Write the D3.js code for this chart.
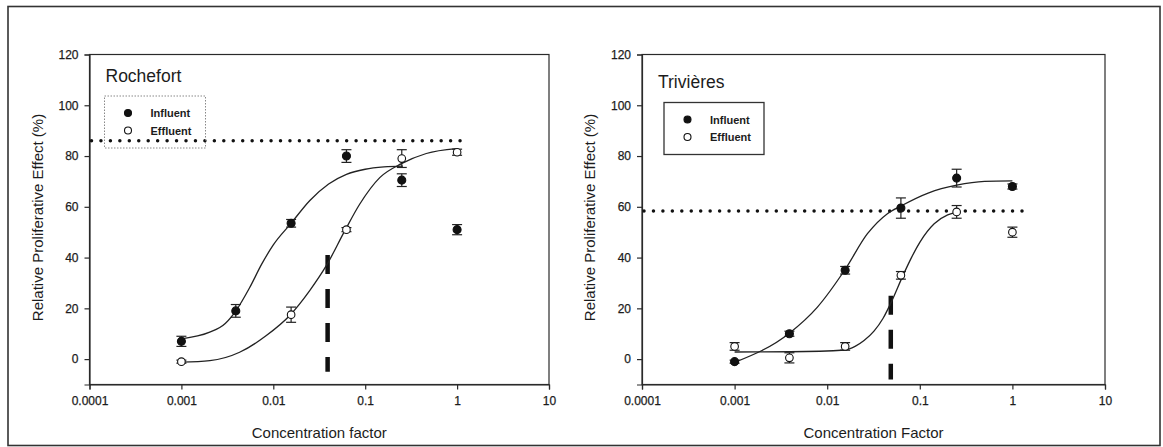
<!DOCTYPE html>
<html><head><meta charset="utf-8">
<script src="https://cdn.jsdelivr.net/npm/d3@7"></script>
<style>
body{margin:0;background:#fff}
svg{display:block}
text{font-family:"Liberation Sans",Arial,Helvetica,sans-serif;fill:#1c1c1c}
</style></head>
<body><svg id="chart" width="1163" height="447"></svg>
<script>
// ---------- data ----------
const concentrations = [0.001, 1/256, 1/64, 1/16, 1/4, 1];
const xTickValues = [0.0001, 0.001, 0.01, 0.1, 1, 10];
const xTickLabels = ["0.0001", "0.001", "0.01", "0.1", "1", "10"];
const yTickValues = [0, 20, 40, 60, 80, 100, 120];
const seriesNames = ["Influent", "Effluent"];

// Rochefort
const rochefortInfluent    = [7, 19, 53.5, 80, 70.5, 51];
const rochefortInfluentErr = [2, 2.5, 1.5, 2.5, 2.5, 2];
const rochefortEffluent    = [-1, null, 17.5, 51, 79, 81.5];
const rochefortEffluentErr = [0.6, null, 3, 0.8, 3.5, 1.2];
const rochefortInfluentFitX = [0.001, 0.002, 0.003, 0.004, 0.0055, 0.0075, 0.01, 0.0156, 0.025, 0.04, 0.0625, 0.1, 0.16, 0.258];
const rochefortInfluentFitY = [8, 10.5, 14, 19.5, 28, 37.5, 45, 53.5, 62.5, 69, 72.8, 74.8, 75.7, 76];
const rochefortEffluentFitX = [0.001, 0.00204, 0.0043, 0.0084, 0.0151, 0.0249, 0.038, 0.0599, 0.087, 0.144, 0.248, 0.462, 0.98];
const rochefortEffluentFitY = [-1.2, -0.6, 2.7, 9.3, 17.2, 27, 37, 50.5, 61, 71.5, 77, 81, 82.9];
const rochefortThreshold = 86;
const rochefortThresholdRange = [0.0001, 1.21];
const rochefortMarkerX = 0.039;
const rochefortMarkerRange = [41, -5];

// Trivières
const trivieresInfluent    = [-1, 10, 35, 59.5, 71.3, 68];
const trivieresInfluentErr = [0.6, 1, 1.5, 4, 3.5, 1];
const trivieresEffluent    = [5, 0.5, 5, 33, 58, 50];
const trivieresEffluentErr = [1.5, 2, 1.5, 1.5, 2.5, 2];
const trivieresInfluentFitX = [0.001, 0.0039, 0.0078, 0.0156, 0.0272, 0.0447, 0.0625, 0.125, 0.25, 0.5, 1];
const trivieresInfluentFitY = [-1.3, 10.2, 20.4, 35.3, 49.4, 57.3, 60.3, 65.5, 68.5, 70, 70.2];
const trivieresEffluentFitX = [0.001, 0.004, 0.0156, 0.02, 0.025, 0.032, 0.04, 0.05, 0.065, 0.08, 0.1, 0.143, 0.2, 0.25];
const trivieresEffluentFitY = [2.8, 2.9, 3.6, 5, 7.3, 11, 16, 23, 32.5, 39.5, 46, 53.3, 56.8, 57.8];
const trivieresThreshold = 58.3;
const trivieresThresholdRange = [0.0001, 1.47];
const trivieresMarkerX = 0.0486;
const trivieresMarkerRange = [25, -8];

// ---------- drawing ----------
const svg = d3.select("#chart");
const ink = "#1c1c1c";

// outer frame
svg.append("rect").attr("x", 8).attr("y", 6.5).attr("width", 1152).attr("height", 439)
  .attr("fill", "none").attr("stroke", "#333").attr("stroke-width", 1.6);

const panels = [
  {title: "Rochefort", xTitle: "Concentration factor", left: 89.5, right: 549, legend: {x: 104.5, y: 96, w: 101, h: 52, dotted: true},
   inf: rochefortInfluent, infErr: rochefortInfluentErr, eff: rochefortEffluent, effErr: rochefortEffluentErr,
   infFit: [rochefortInfluentFitX, rochefortInfluentFitY], effFit: [rochefortEffluentFitX, rochefortEffluentFitY],
   thr: rochefortThreshold, thrRange: rochefortThresholdRange, mX: rochefortMarkerX, mRange: rochefortMarkerRange, titleY: 82, yTitleX: 38},
  {title: "Trivières", xTitle: "Concentration Factor", left: 642, right: 1105, legend: {x: 664, y: 102.5, w: 100, h: 52, dotted: false},
   inf: trivieresInfluent, infErr: trivieresInfluentErr, eff: trivieresEffluent, effErr: trivieresEffluentErr,
   infFit: [trivieresInfluentFitX, trivieresInfluentFitY], effFit: [trivieresEffluentFitX, trivieresEffluentFitY],
   thr: trivieresThreshold, thrRange: trivieresThresholdRange, mX: trivieresMarkerX, mRange: trivieresMarkerRange, titleY: 88, yTitleX: 590}
];

const plotTop = 54.5, plotBottom = 384.5;

panels.forEach(p => {
  const x = d3.scaleLog().domain([0.0001, 10]).range([p.left, p.right]);
  const y = d3.scaleLinear().domain([-10, 120]).range([plotBottom, plotTop]);
  const g = svg.append("g");

  // plot frame
  g.append("rect").attr("x", p.left).attr("y", plotTop).attr("width", p.right - p.left).attr("height", plotBottom - plotTop)
    .attr("fill", "none").attr("stroke", "#2a2a2a").attr("stroke-width", 1.2);

  // axes
  const xAxis = d3.axisBottom(x).tickValues(xTickValues).tickFormat((d, i) => xTickLabels[i]).tickSize(5).tickPadding(7);
  const gx = g.append("g").attr("transform", `translate(0,${plotBottom})`).call(xAxis);
  const yAxis = d3.axisLeft(y).tickValues(yTickValues).tickSize(5).tickPadding(6);
  const gy = g.append("g").attr("transform", `translate(${p.left},0)`).call(yAxis);
  [gx, gy].forEach(a => {
    a.select(".domain").attr("stroke", "#2a2a2a").attr("stroke-width", 1.2);
    a.selectAll(".tick line").attr("stroke", "#2a2a2a").attr("stroke-width", 1.2);
    a.selectAll(".tick text").attr("font-size", 12).attr("fill", ink)
      .attr("stroke", ink).attr("stroke-width", 0.25)
      .style("font-family", '"Liberation Sans",Arial,sans-serif');
  });

  // axis titles
  g.append("text").attr("x", (p.left + p.right) / 2).attr("y", 438).attr("text-anchor", "middle")
    .attr("font-size", 15).text(p.xTitle);
  g.append("text").attr("transform", `translate(${p.yTitleX + 5},${(plotTop + plotBottom) / 2 - 2}) rotate(-90)`)
    .attr("text-anchor", "middle").attr("font-size", 15).text("Relative Proliferative Effect (%)");

  // panel title
  g.append("text").attr("x", p.left + 16).attr("y", p.titleY).attr("font-size", 17.5).text(p.title);

  // threshold dotted line
  g.append("line").attr("x1", x(p.thrRange[0]) + 2).attr("x2", x(p.thrRange[1]))
    .attr("y1", y(p.thr)).attr("y2", y(p.thr))
    .attr("stroke", "#111").attr("stroke-width", 3.5).attr("stroke-linecap", "round")
    .attr("stroke-dasharray", "0 9.45");

  // vertical dashed marker
  g.append("line").attr("x1", x(p.mX)).attr("x2", x(p.mX))
    .attr("y1", y(p.mRange[0])).attr("y2", y(p.mRange[1]))
    .attr("stroke", "#111").attr("stroke-width", 4.5).attr("stroke-dasharray", "19 15");

  // fitted curves
  const line = d3.line().x(d => x(d[0])).y(d => y(d[1])).curve(d3.curveMonotoneX);
  [p.infFit, p.effFit].forEach(f => {
    const pts = f[0].map((v, i) => [v, f[1][i]]);
    g.append("path").attr("d", line(pts)).attr("fill", "none").attr("stroke", "#222").attr("stroke-width", 1.3);
  });

  // points with error bars
  const drawSeries = (vals, errs, filled) => {
    vals.forEach((v, i) => {
      if (v === null) return;
      const cx = x(concentrations[i]), cy = y(v);
      const e = errs[i];
      g.append("line").attr("x1", cx).attr("x2", cx).attr("y1", y(v + e)).attr("y2", y(v - e))
        .attr("stroke", "#222").attr("stroke-width", 1.2);
      [v + e, v - e].forEach(ev => g.append("line").attr("x1", cx - 5).attr("x2", cx + 5)
        .attr("y1", y(ev)).attr("y2", y(ev)).attr("stroke", "#222").attr("stroke-width", 1.2));
      g.append("circle").attr("cx", cx).attr("cy", cy).attr("r", filled ? 4 : 3.8)
        .attr("fill", filled ? "#111" : "#fff").attr("stroke", "#111").attr("stroke-width", 1.1);
    });
  };
  drawSeries(p.eff, p.effErr, false);
  drawSeries(p.inf, p.infErr, true);

  // legend
  const L = p.legend;
  g.append("rect").attr("x", L.x).attr("y", L.y).attr("width", L.w).attr("height", L.h)
    .attr("fill", "none").attr("stroke", L.dotted ? "#888" : "#333")
    .attr("stroke-width", L.dotted ? 1 : 1.3).attr("stroke-dasharray", L.dotted ? "1.5 1.5" : null);
  seriesNames.forEach((name, i) => {
    const ly = L.y + 17 + i * 17.5;
    g.append("circle").attr("cx", L.x + 23.5).attr("cy", ly).attr("r", 3.5)
      .attr("fill", i === 0 ? "#111" : "#fff").attr("stroke", "#111").attr("stroke-width", 1.1);
    g.append("text").attr("x", L.x + 46).attr("y", ly + 4).attr("font-size", 11).attr("font-weight", "bold").text(name);
  });
});
</script>
</body></html>
